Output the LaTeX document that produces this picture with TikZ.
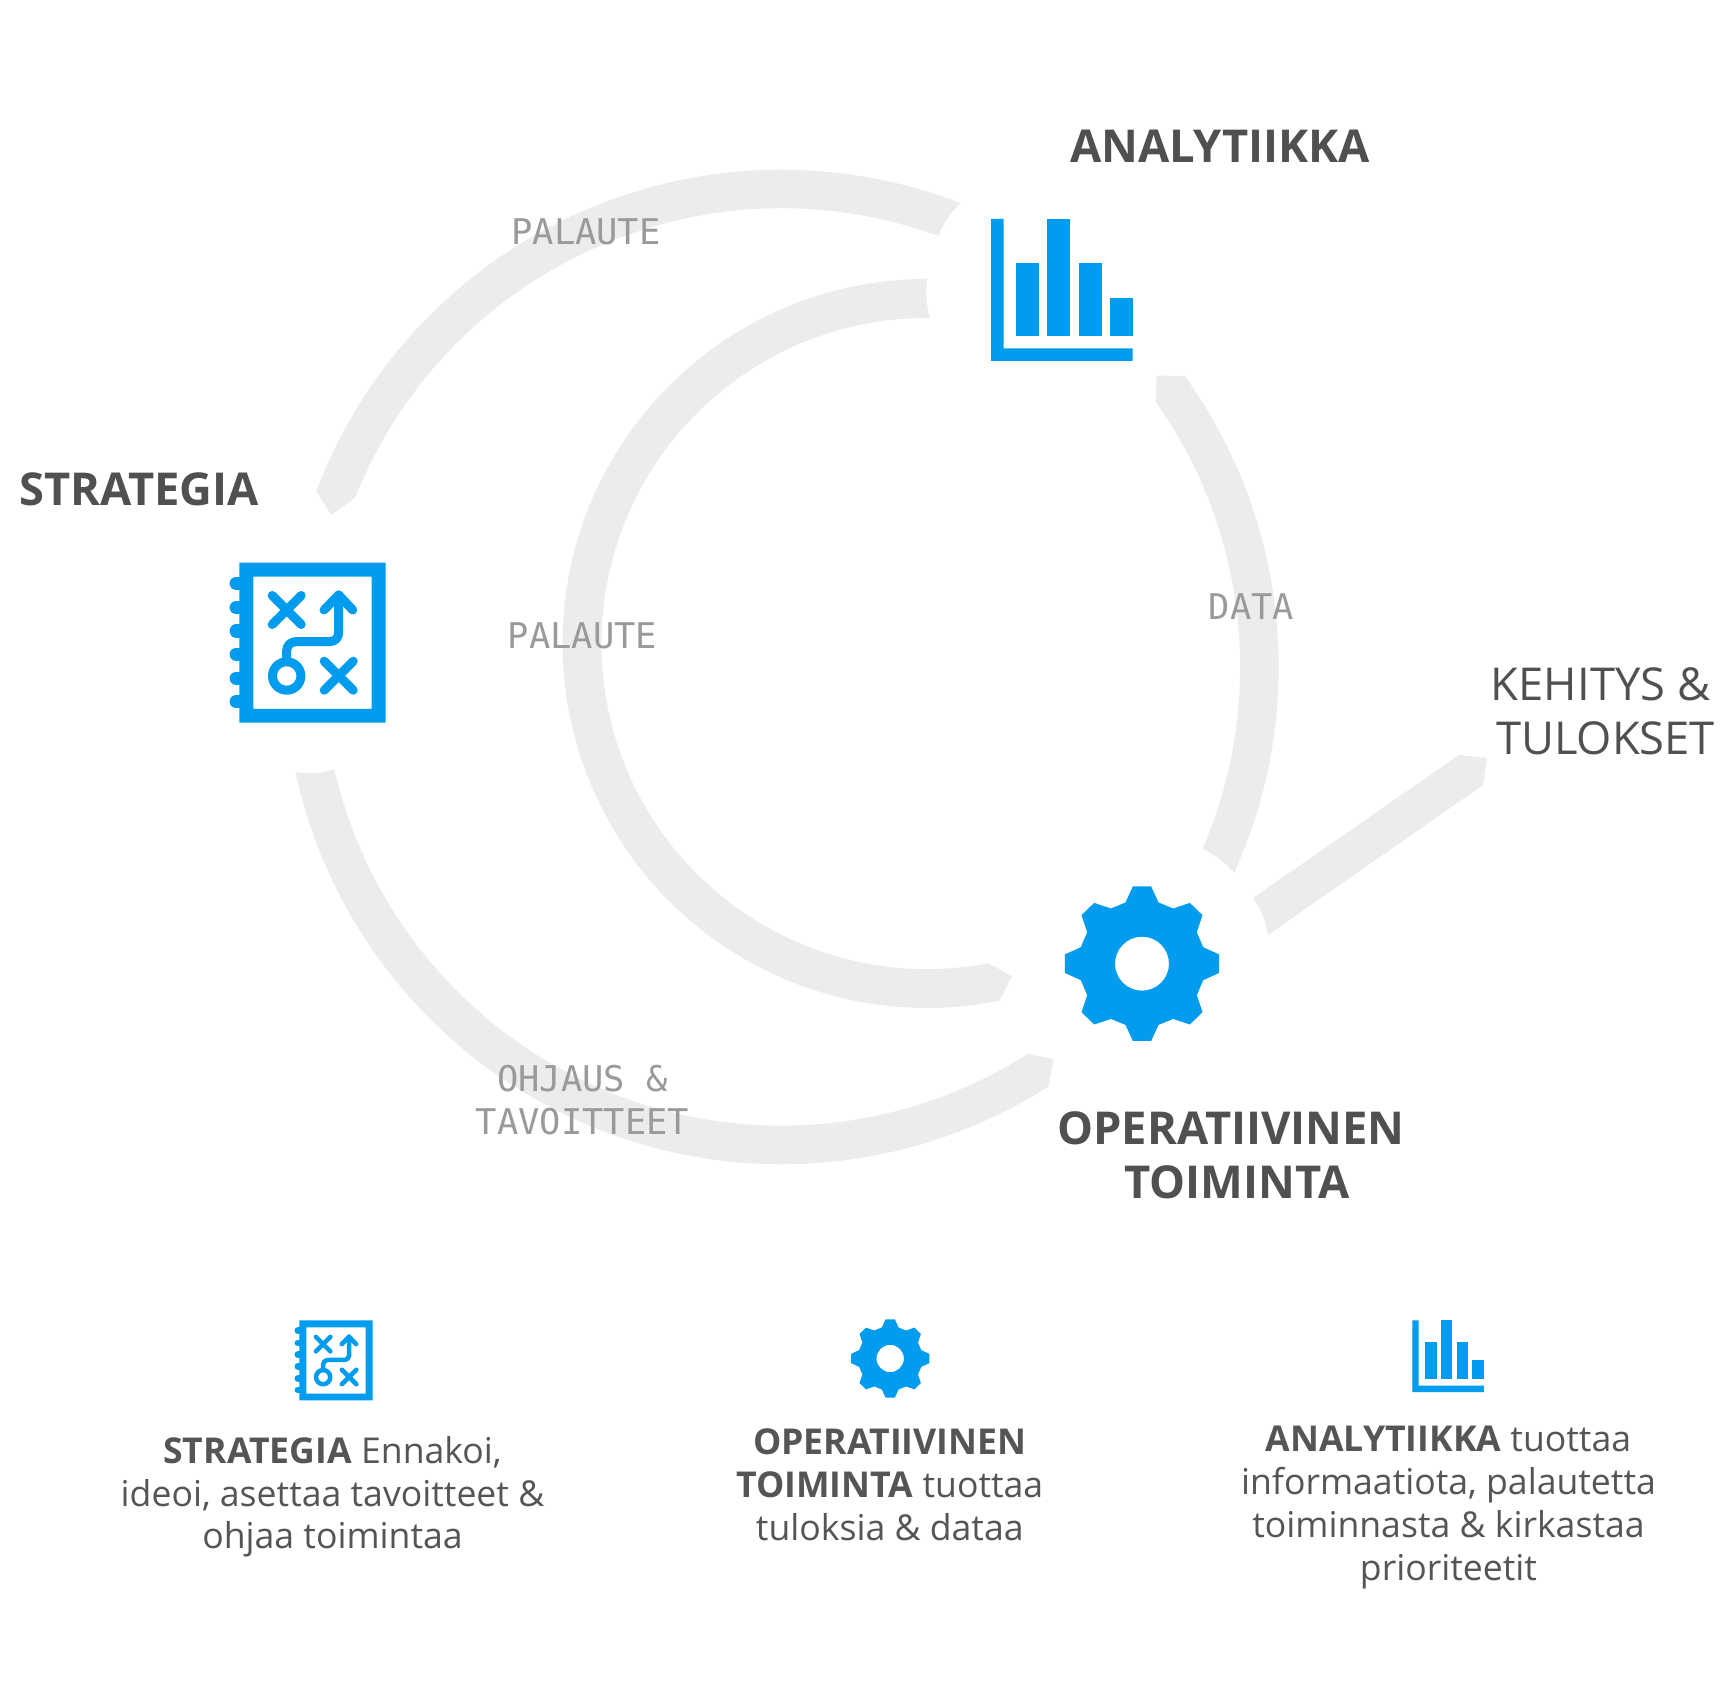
\documentclass[tikz,border=0pt]{standalone}
\usepackage{fontspec}
\setmainfont{Open Sans}
\newfontfamily\monofam{DejaVu Sans Mono}
\definecolor{ringgrey}{HTML}{ECECEC}
\definecolor{iconblue}{HTML}{019CEE}
\definecolor{headtext}{HTML}{505050}
\definecolor{bodytext}{HTML}{555555}
\definecolor{monotext}{HTML}{9A9A9A}
\tikzset{
  ringpart/.style={fill=ringgrey,draw=none},
  flowlabel/.style={font=\monofam\fontsize{35.4}{43}\selectfont,text=monotext,align=center,inner sep=0pt},
  headline/.style={font=\bfseries\fontsize{45.3}{54}\selectfont,text=headtext,align=center,inner sep=0pt},
  resultline/.style={font=\fontsize{45.3}{54}\selectfont,text=headtext,align=center,inner sep=0pt},
  bodyblock/.style={font=\fontsize{35.6}{42.8}\selectfont,text=bodytext,align=center,inner sep=0pt},
}
% #1 scale, #2 x centre, #3 y centre (image px)
\newcommand{\stratIcon}[3]{%
\begin{scope}[shift={(#2,1695-#3)},x=#1pt,y=-#1pt]
  \fill[iconblue,even odd rule] (-73.2,-80) rectangle (73.2,80) (-59.2,-66) rectangle (59.2,66.3);
  \foreach \ty in {-59.4,-35,-11.7,11.6,35.6,59} {
    \draw[iconblue,line width=#1*13.5pt,line cap=round] (-76.2,\ty) -- (-72,\ty);
  }
  \begin{scope}[iconblue,line width=#1*9pt,line cap=round,line join=round]
    \draw (-40.3,-47.2) -- (-11.3,-18.2) (-40.3,-18.2) -- (-11.3,-47.2);
    \draw (11.7,18.5) -- (40.7,47.5) (11.7,47.5) -- (40.7,18.5);
    \draw[rounded corners=#1*9pt] (-25.8,15.3) -- (-25.8,-1) -- (26.2,-1) -- (26.2,-47.7);
    \draw (11.5,-32.7) -- (26.2,-47.7) -- (40.2,-32.7);
    \draw[line width=#1*9pt] (-25.8,33.3) circle[radius=14.2];
  \end{scope}
\end{scope}}
\newcommand{\gearIcon}[3]{%
\begin{scope}[shift={(#2,1695-#3)},x=#1pt,y=-#1pt]
  \fill[iconblue,even odd rule]
    (9.2,-77.2) -- (16.5,-61.2) -- (31.2,-55.2) -- (47.8,-60.8) -- (60.5,-48.5) -- (54.8,-31.5) -- (61.2,-16.5) -- (77.2,-9.2)
    -- (77.2,9.2) -- (61.2,16.5) -- (54.8,31.5) -- (60.5,48.5) -- (47.8,60.8) -- (31.2,55.2) -- (16.5,61.2) -- (9.2,77.2)
    -- (-9.2,77.2) -- (-16.5,61.2) -- (-31.2,55.2) -- (-47.8,60.8) -- (-60.5,48.5) -- (-54.8,31.5) -- (-61.2,16.5) -- (-77.2,9.2)
    -- (-77.2,-9.2) -- (-61.2,-16.5) -- (-54.8,-31.5) -- (-60.5,-48.5) -- (-47.8,-60.8) -- (-31.2,-55.2) -- (-16.5,-61.2) -- (-9.2,-77.2) -- cycle
    (0,0) circle[radius=27];
\end{scope}}
% #1 scale, #2 left, #3 top
\newcommand{\barsIcon}[3]{%
\begin{scope}[shift={(#2,1695-#3)},x=#1pt,y=-#1pt]
  \fill[iconblue] (0,0) -- (12.7,0) -- (12.7,129.3) -- (141.7,129.3) -- (141.7,142) -- (0,142) -- cycle;
  \fill[iconblue] (25,43.7) rectangle (48,116.7);
  \fill[iconblue] (56.3,0) rectangle (79.3,116.7);
  \fill[iconblue] (87.7,43.7) rectangle (110.7,116.7);
  \fill[iconblue] (119,79) rectangle (141.7,116.7);
\end{scope}}
\begin{document}
\begin{tikzpicture}[x=1pt,y=1pt]
\useasboundingbox (0,0) rectangle (1732,1695);
\fill[white] (0,0) rectangle (1732,1695);
% outer ring
\begin{scope}[shift={(781.5,1028)}]
  % top PALAUTE arc
  \fill[ringpart] (159.34:497.3) arc[start angle=159.34,end angle=68.9,radius=497.3]
    to[bend right=12] (69.99:458.7) arc[start angle=69.99,end angle=158.32,radius=458.7]
    -- (-450,152) -- cycle;
  % right DATA arc
  \fill[ringpart] (375,291.4) -- (35.83:497.2) arc[start angle=35.83,end angle=-24.45,radius=497.2]
    to[bend right=12] (-23.38:458.7) arc[start angle=-23.38,end angle=35.32,radius=458.7] -- cycle;
  % lower OHJAUS arc
  \fill[ringpart] (192.2:497.3) arc[start angle=192.2,end angle=302.45,radius=497.3]
    -- (272,-392) -- (302.44:458.7) arc[start angle=302.44,end angle=192.9,radius=458.7]
    to[bend left=12] cycle;
\end{scope}
% inner ring
\begin{scope}[shift={(927,1051.5)}]
  \fill[ringpart] (90:364.5) arc[start angle=90,end angle=281.5,radius=364.5]
    -- (85,-332.5) -- (280.8:325.6) arc[start angle=280.8,end angle=89.5,radius=325.6]
    to[bend left=10] cycle;
\end{scope}
% straight result band
\fill[ringpart] (1253,1695-898) to[bend left=12] (1268,1695-935) -- (1483,1695-785) -- (1487,1695-758) -- (1459,1695-755) -- cycle;
% icons
\stratIcon{1}{312.5}{642.7}
\gearIcon{1}{1142}{963.7}
\barsIcon{1}{991}{219}
\stratIcon{0.5}{336}{1360.5}
\gearIcon{0.507}{890.2}{1358.5}
\barsIcon{0.505}{1412.3}{1320.3}
% headings
\node[headline] (analytiikka) at (1220,1695-146) {ANALYTIIKKA};
\node[headline] (strategia) at (139,1695-489.5) {STRATEGIA};
\node[headline] (operatiivinen) at (1237,1695-1155) {OPERATIIVINEN\kern12pt\\TOIMINTA};
\node[resultline] (kehitys) at (1605.5,1695-711) {KEHITYS \&\kern10pt\\TULOKSET};
% flow labels
\node[flowlabel] (palauteA) at (586,1695-232) {PALAUTE};
\node[flowlabel] (palauteB) at (582.5,1695-635.5) {PALAUTE};
\node[flowlabel] (data) at (1251.5,1695-606.5) {DATA};
\node[flowlabel] (ohjaus) at (582.5,1695-1100.5) {OHJAUS \&\\TAVOITTEET};
% descriptions
\node[bodyblock] (textA) at (332.5,1695-1496.8) {\textbf{STRATEGIA} Ennakoi,\\ideoi, asettaa tavoitteet \&\\ohjaa toimintaa};
\node[bodyblock] (textB) at (889.8,1695-1485) {\textbf{OPERATIIVINEN}\\\textbf{TOIMINTA} tuottaa\\tuloksia \& dataa};
\node[bodyblock] (textC) at (1448.5,1695-1507.7) {\textbf{ANALYTIIKKA} tuottaa\\informaatiota, palautetta\\toiminnasta \& kirkastaa\\prioriteetit};
\end{tikzpicture}
\end{document}
